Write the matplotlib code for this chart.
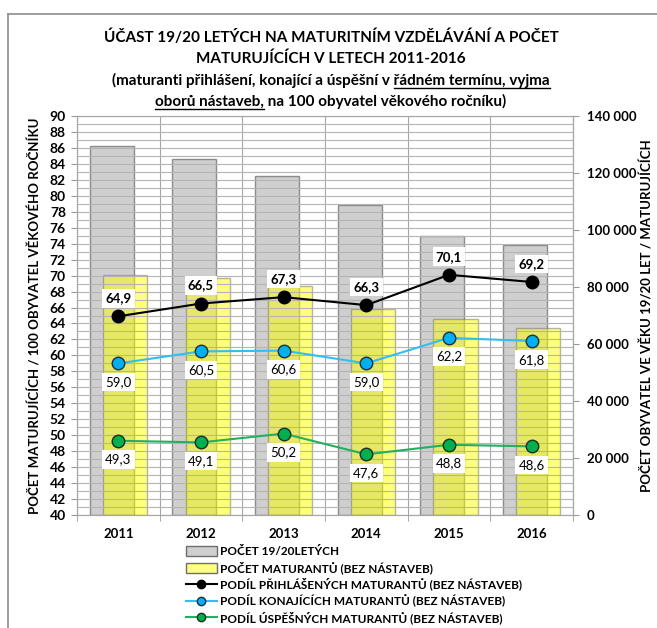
import matplotlib
matplotlib.use("Agg")
import matplotlib.pyplot as plt
from matplotlib.ticker import MultipleLocator, FixedLocator, FuncFormatter
from matplotlib.lines import Line2D
from matplotlib.patches import Patch

plt.rcParams['font.family'] = ['Lato', 'DejaVu Sans']

years = ['2011', '2012', '2013', '2014', '2015', '2016']
pocet_1920 = [129600, 125000, 119100, 108800, 98000, 94700]
pocet_maturantu = [84200, 83300, 80400, 72200, 68800, 65700]
podil_prihlasenych = [64.9, 66.5, 67.3, 66.3, 70.1, 69.2]
podil_konajicich = [59.0, 60.5, 60.6, 59.0, 62.2, 61.8]
podil_uspesnych = [49.3, 49.1, 50.2, 47.6, 48.8, 48.6]

legend_labels = ['POČET 19/20LETÝCH', 'POČET MATURANTŮ (BEZ NÁSTAVEB)',
                 'PODÍL PŘIHLÁŠENÝCH MATURANTŮ (BEZ NÁSTAVEB)',
                 'PODÍL KONAJÍCÍCH MATURANTŮ (BEZ NÁSTAVEB)',
                 'PODÍL ÚSPĚŠNÝCH MATURANTŮ (BEZ NÁSTAVEB)']

W, H = 657, 628
fig = plt.figure(figsize=(W / 100, H / 100), dpi=100)

x = list(range(len(years)))

ax = fig.add_axes([77 / W, 1 - 515 / H, (573 - 77) / W, (515 - 116) / H])
ax2 = ax.twinx()
ax2.set_zorder(0)
ax.set_zorder(1)
ax.patch.set_visible(False)
ax2.patch.set_visible(True)
ax2.patch.set_facecolor('white')

# bars on right axis
bw = 0.535
off = 0.08
ax2.bar([i - off for i in x], pocet_1920, width=bw, color='#BFBFBF', alpha=0.75,
        edgecolor='#6E6E6E', linewidth=1.0, zorder=2)
ax2.bar([i + off for i in x], pocet_maturantu, width=bw, color='#FFFF00', alpha=0.5,
        edgecolor='#6E6E6E', linewidth=1.0, zorder=3)
ax2.set_ylim(0, 140000)
ax2.yaxis.set_major_locator(MultipleLocator(20000))
ax2.yaxis.set_major_formatter(FuncFormatter(lambda v, p: f"{int(v):,}".replace(',', ' ')))
ax2.tick_params(axis='y', labelsize=9.5, length=4, color='#999999', pad=6)
for lab in ax2.get_yticklabels():
    lab.set_fontweight('bold')
ax2.set_ylabel('POČET OBYVATEL VE VĚKU 19/20 LET / MATURUJÍCÍCH', fontsize=9.5,
               fontweight='bold', labelpad=3)

# lines on left axis
ax.set_xlim(-0.5, 5.5)
ax.set_ylim(40, 90)
ax.yaxis.set_major_locator(MultipleLocator(2))
ax.yaxis.set_minor_locator(MultipleLocator(1))
ax.set_xticks(x)
ax.set_xticklabels(years)
ax.xaxis.set_minor_locator(FixedLocator([i + 0.5 for i in range(-1, 6)]))
ax.tick_params(axis='x', which='major', length=0, labelsize=9.5, pad=9)
ax.tick_params(axis='x', which='minor', length=4, color='#999999')
ax.tick_params(axis='y', which='major', length=4, color='#999999', labelsize=10, pad=4)
ax.tick_params(axis='y', which='minor', length=0)
for lab in ax.get_yticklabels() + ax.get_xticklabels():
    lab.set_fontweight('bold')
ax.grid(axis='y', which='both', color='#B4B4B4', linewidth=0.8, zorder=0)
ax.grid(axis='x', which='minor', color='#A6A6A6', linewidth=0.8, zorder=0)
ax.set_axisbelow(True)
for a in (ax, ax2):
    for s in a.spines.values():
        s.set_color('#A6A6A6')
        s.set_linewidth(0.8)
ax.set_ylabel('POČET MATURUJÍCÍCH / 100 OBYVATEL VĚKOVÉHO ROČNÍKU', fontsize=9.5,
              fontweight='bold', labelpad=6)

ax.plot(x, podil_prihlasenych, color='black', linewidth=1.5, marker='o', markersize=9,
        markerfacecolor='black', markeredgecolor='black', zorder=5)
ax.plot(x, podil_konajicich, color='#33BDF0', linewidth=1.5, marker='o', markersize=9,
        markerfacecolor='#00B0F0', markeredgecolor='#1F2F3F', zorder=5)
ax.plot(x, podil_uspesnych, color='#22B060', linewidth=1.5, marker='o', markersize=9,
        markerfacecolor='#00B050', markeredgecolor='#1F2F1F', zorder=5)

bbox = dict(boxstyle='square,pad=0.25', facecolor='white', edgecolor='none')
for xi, v in zip(x, podil_prihlasenych):
    ax.annotate(f"{v:.1f}".replace('.', ','), (xi, v), xytext=(0, 13), textcoords='offset points',
                ha='center', va='center', fontsize=9.5, fontweight='bold', bbox=bbox, zorder=6)
for series in (podil_konajicich, podil_uspesnych):
    for xi, v in zip(x, series):
        ax.annotate(f"{v:.1f}".replace('.', ','), (xi, v), xytext=(0, -13.5), textcoords='offset points',
                    ha='center', va='center', fontsize=9.5, bbox=bbox, zorder=6)

# legend
handles = [Patch(facecolor='#CFCFCF', edgecolor='#6E6E6E', linewidth=1.0),
           Patch(facecolor='#FFFF80', edgecolor='#6E6E6E', linewidth=1.0),
           Line2D([], [], color='black', linewidth=1.5, marker='o', markersize=6,
                  markerfacecolor='black', markeredgecolor='black'),
           Line2D([], [], color='#33BDF0', linewidth=1.5, marker='o', markersize=6,
                  markerfacecolor='#00B0F0', markeredgecolor='#1F2F3F'),
           Line2D([], [], color='#22B060', linewidth=1.5, marker='o', markersize=6,
                  markerfacecolor='#00B050', markeredgecolor='#1F2F1F')]
fig.legend(handles, legend_labels, loc='upper left', bbox_to_anchor=(186 / W, 1 - 546 / H),
           frameon=False, prop={'size': 8.5, 'weight': 'bold'}, handlelength=2.6,
           handleheight=0.9, handletextpad=0.3, labelspacing=0.33, borderpad=0, borderaxespad=0)

# frame lines
fig.add_artist(Line2D([8 / W, 1], [1 - 13.5 / H, 1 - 13.5 / H], transform=fig.transFigure,
                      color='#8C8C8C', linewidth=1.2))
fig.add_artist(Line2D([8 / W, 8 / W], [0, 1 - 13.5 / H], transform=fig.transFigure,
                      color='#8C8C8C', linewidth=1.2))

# title with partial underlines
title_lines = [
    [('ÚČAST 19/20 LETÝCH NA MATURITNÍM VZDĚLÁVÁNÍ A POČET', False)],
    [('MATURUJÍCÍCH V LETECH 2011-2016', False)],
    [('(maturanti přihlášení, konající a úspěšní v ', False), ('řádném termínu, vyjma', True)],
    [('oborů nástaveb,', True), (' na 100 obyvatel věkového ročníku)', False)],
]
baselines = [42, 63, 85, 106]
cx = 331
tfs = 11
renderer = fig.canvas.get_renderer()


def text_width(s):
    t = fig.text(0, 0, s + '.', fontsize=tfs, fontweight='bold')
    t2 = fig.text(0, 0, '.', fontsize=tfs, fontweight='bold')
    w = t.get_window_extent(renderer).width - t2.get_window_extent(renderer).width
    t.remove()
    t2.remove()
    return w


for pieces, by in zip(title_lines, baselines):
    full = ''.join(p for p, _ in pieces)
    t = fig.text(cx / W, 1 - by / H, full, fontsize=tfs, fontweight='bold',
                 ha='center', va='baseline')
    ext = t.get_window_extent(renderer)
    pos = ext.x0
    for s, u in pieces:
        w = text_width(s)
        if u:
            y = (H - by - 2.5) / H
            fig.add_artist(Line2D([pos / W, (pos + w) / W], [y, y], transform=fig.transFigure,
                                  color='black', linewidth=1.0))
        pos += w

fig.savefig('out.png', dpi=100)
